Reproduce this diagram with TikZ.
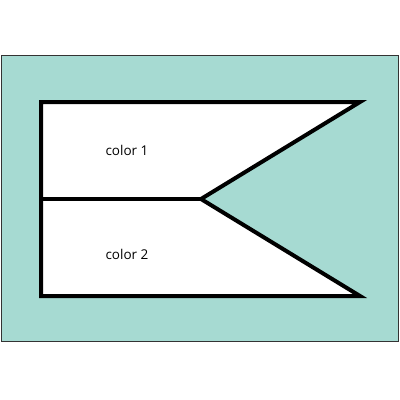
\documentclass[tikz,border=0pt]{standalone}
\usepackage{fontspec}
\setmainfont{Open Sans}
\usetikzlibrary{positioning}
\definecolor{teal bg}{HTML}{A6DAD2}

\begin{document}
\begin{tikzpicture}[
    x=1pt, y=-1pt,
    % define styles
    back/.style={
        fill=teal bg,
        draw=black!80,
        line width=1.2pt
    },
    flag/.style={
        fill=white,
        draw=black,
        line width=4pt,
        line join=miter
    },
    label/.style={
        font=\fontsize{13.5}{16}\selectfont,
        inner sep=0pt
    }
]
\useasboundingbox (0,0) rectangle (400,400);
% background panel
\draw[back] (1.5,55.5) rectangle (398.5,341.5);

% corners of the flag
\coordinate (tl) at (41,102);
\coordinate (tr) at (360,102);
\coordinate (notch) at (201,199);
\coordinate (br) at (360,296);
\coordinate (bl) at (41,296);
\coordinate (ml) at (41,199);

\draw[flag] (tl) -- (tr) -- (notch) -- (br) -- (bl) -- cycle;
\draw[flag] (ml) -- (notch);

% labels
\node[label] (c1) at (127,150) {color 1};
\node[label] (c2) at (127,254) {color 2};
\end{tikzpicture}
\end{document}
